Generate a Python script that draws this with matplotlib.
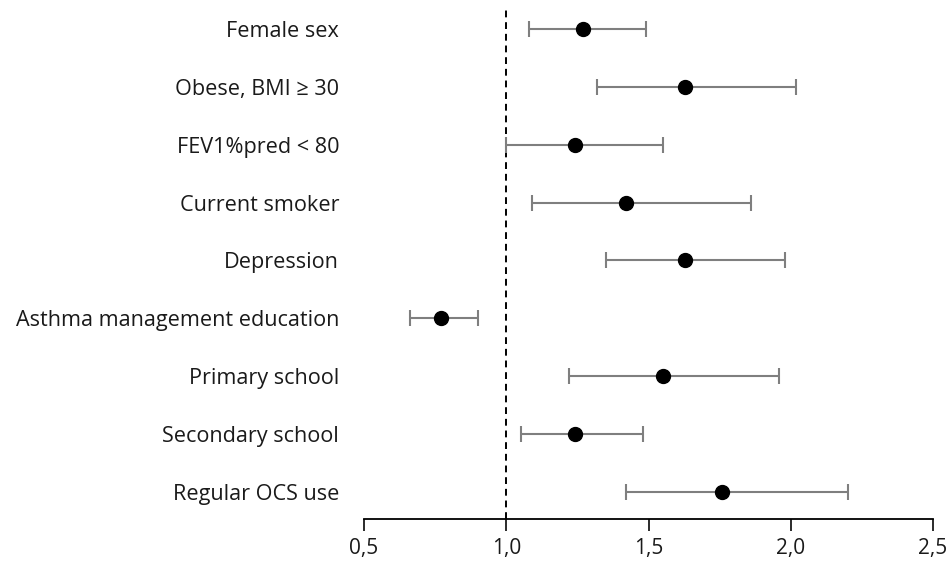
import matplotlib.pyplot as plt
from matplotlib.ticker import FuncFormatter

# odds ratios with 95% CI, one row per predictor (top to bottom)
labels = ["Female sex", "Obese, BMI \u2265 30", "FEV1%pred < 80", "Current smoker",
          "Depression", "Asthma management education", "Primary school",
          "Secondary school", "Regular OCS use"]
odds = [1.27, 1.63, 1.24, 1.42, 1.63, 0.77, 1.55, 1.24, 1.76]
ci_low = [1.08, 1.32, 1.00, 1.09, 1.35, 0.66, 1.22, 1.05, 1.42]
ci_high = [1.49, 2.02, 1.55, 1.86, 1.98, 0.90, 1.96, 1.48, 2.20]
xticks = [0.5, 1.0, 1.5, 2.0, 2.5]

plt.rcParams["font.family"] = ["Open Sans", "DejaVu Sans"]

fig = plt.figure(figsize=(9.5, 5.68), dpi=100)
ax = fig.add_axes([0.3832, 0.0863, 0.5989, 0.8961])

ys = list(range(1, len(labels) + 1))
err = [[o - l for o, l in zip(odds, ci_low)], [h - o for o, h in zip(odds, ci_high)]]
ax.errorbar(odds, ys, xerr=err, fmt="none", ecolor="#7f7f7f", elinewidth=1.5,
            capsize=5.5, capthick=1.5, zorder=2)
ax.plot(odds, ys, "o", color="black", ms=10, zorder=3)
ax.axvline(1.0, color="black", lw=1.4, ls=(0, (3.5, 2.5)), zorder=1)

ax.set_xlim(0.5, 2.5)
ax.set_ylim(9.47, 0.67)
ax.set_xticks(xticks)
ax.xaxis.set_major_formatter(FuncFormatter(lambda v, p: f"{v:.1f}".replace(".", ",")))
ax.set_yticks(ys)
ax.set_yticklabels(labels)

for s in ("top", "right", "left"):
    ax.spines[s].set_visible(False)
ax.spines["bottom"].set_linewidth(1.3)
ax.tick_params(axis="y", length=0, pad=18, labelsize=15.6, colors="#1a1a1a")
ax.tick_params(axis="x", direction="out", length=8.5, width=1.3, pad=5,
               labelsize=15, colors="#1a1a1a")

fig.savefig("out.png", dpi=100, facecolor="white")
